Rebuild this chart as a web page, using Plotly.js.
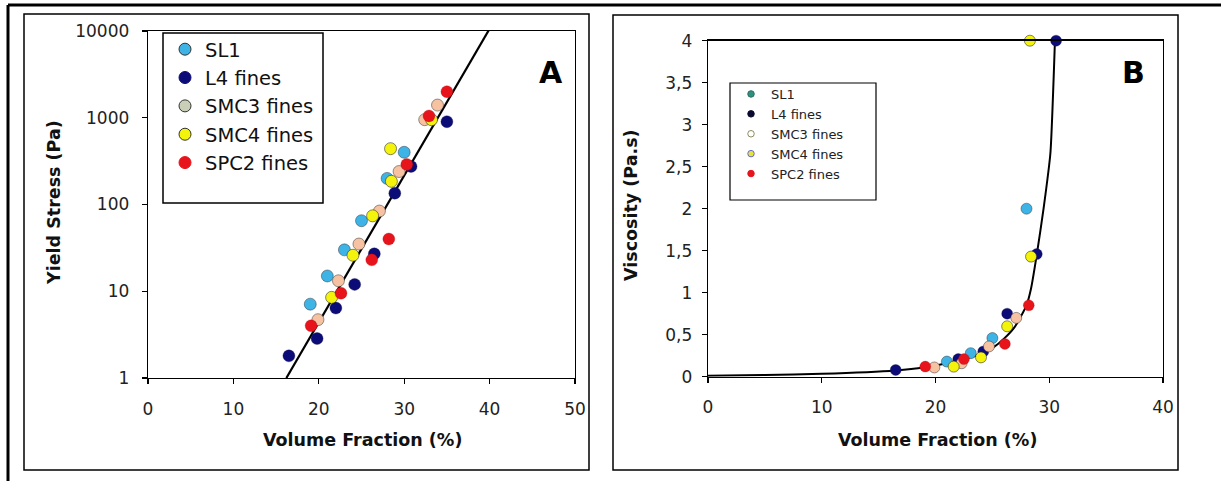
<!DOCTYPE html>
<html>
<head>
<meta charset="utf-8">
<script src="https://cdn.plot.ly/plotly-3.0.1.min.js"></script>
<style>html,body{margin:0;padding:0;background:#fff;}#chart{width:1221px;height:481px;}</style>
</head>
<body>
<div id="chart"></div>
<script>
// ---------- Data: Panel A (Yield stress, log scale) ----------
const seriesNames = ['SL1', 'L4 fines', 'SMC3 fines', 'SMC4 fines', 'SPC2 fines'];

const aSL1_x  = [19.0, 21.0, 23.0, 25.0, 28.0, 30.0];
const aSL1_y  = [7.1, 15, 30, 65, 200, 400];
const aL4_x   = [16.5, 19.8, 22.0, 24.2, 26.5, 28.9, 30.8, 35.0];
const aL4_y   = [1.8, 2.85, 6.4, 12, 27, 135, 275, 900];
const aSMC3_x = [19.9, 22.3, 24.7, 27.1, 29.4, 32.4, 33.9];
const aSMC3_y = [4.7, 13.2, 35, 84, 240, 950, 1400];
const aSMC4_x = [21.5, 24.0, 26.3, 28.5, 28.4, 33.2];
const aSMC4_y = [8.5, 26, 74, 185, 440, 950];
const aSPC2_x = [19.1, 22.6, 26.2, 28.2, 30.3, 32.9, 35.0];
const aSPC2_y = [4.0, 9.5, 23, 40, 290, 1050, 2000];
const aFit_x  = [16.2, 40.0];
const aFit_y  = [1, 10600];

// ---------- Data: Panel B (Viscosity) ----------
const bSL1_x  = [21.0, 23.1, 25.0, 28.0];
const bSL1_y  = [0.18, 0.28, 0.46, 2.0];
const bL4_x   = [16.5, 22.0, 24.2, 26.3, 28.9, 30.6];
const bL4_y   = [0.08, 0.21, 0.30, 0.75, 1.46, 4.0];
const bSMC3_x = [19.9, 22.3, 24.7, 27.1];
const bSMC3_y = [0.11, 0.16, 0.36, 0.70];
const bSMC4_x = [21.6, 24.0, 26.3, 28.4, 28.3];
const bSMC4_y = [0.12, 0.23, 0.60, 1.43, 4.0];
const bSPC2_x = [19.1, 22.5, 26.1, 28.2];
const bSPC2_y = [0.12, 0.21, 0.39, 0.85];
const bFit_x  = [0, 5, 10, 16.5, 19, 21, 22.5, 24, 25, 26, 27, 28, 28.4, 28.9, 29.5, 30.1, 30.5];
const bFit_y  = [0.01, 0.02, 0.035, 0.075, 0.11, 0.16, 0.21, 0.27, 0.34, 0.45, 0.6, 0.85, 1.05, 1.45, 2.0, 2.66, 4.0];

// ---------- Tick labels ----------
const aXTicks = [0, 10, 20, 30, 40, 50];
const aYTickVals = [1, 10, 100, 1000, 10000];
const aYTickText = ['1', '10', '100', '1000', '10000'];
const bXTicks = [0, 10, 20, 30, 40];
const bYTickVals = [0, 0.5, 1, 1.5, 2, 2.5, 3, 3.5, 4];
const bYTickText = ['0', '0,5', '1', '1,5', '2', '2,5', '3', '3,5', '4'];

// ---------- Styling ----------
const W = 1221, H = 481;
const px = v => v / W;
const py = v => 1 - v / H;
const FONT = 'DejaVu Sans, Arial, sans-serif';

const dataColors = ['#3db3e6', '#0c0c78', '#f6c2a2', '#f4f30c', '#e8141c'];
const dataLines  = ['rgba(40,40,40,0.55)', 'rgba(20,20,60,0.4)', 'rgba(40,40,40,0.6)', 'rgba(40,40,40,0.7)', 'rgba(150,0,0,0.3)'];
const legAColors = ['#3db3e6', '#0c0c78', '#c9cfb6', '#f4f30c', '#e8141c'];
const legALines  = ['#333', '#0c0c78', '#333', '#333', '#e8141c'];
const legBColors = ['#2f8f80', '#0a0a30', '#ffffff', '#e4e43a', '#e8141c'];
const legBLines  = ['#2f6f60', '#0a0a30', '#8c8c60', '#6a6ad0', '#e8141c'];

const aX = [aSL1_x, aL4_x, aSMC3_x, aSMC4_x, aSPC2_x];
const aY = [aSL1_y, aL4_y, aSMC3_y, aSMC4_y, aSPC2_y];
const bX = [bSL1_x, bL4_x, bSMC3_x, bSMC4_x, bSPC2_x];
const bY = [bSL1_y, bL4_y, bSMC3_y, bSMC4_y, bSPC2_y];

const traces = [];
// fit lines
traces.push({x: aFit_x, y: aFit_y, xaxis: 'x', yaxis: 'y', mode: 'lines', line: {color: '#000', width: 2.2}, showlegend: false, hoverinfo: 'skip'});
traces.push({x: bFit_x, y: bFit_y, xaxis: 'x2', yaxis: 'y2', mode: 'lines', line: {color: '#000', width: 2, shape: 'spline', smoothing: 0.5}, showlegend: false, hoverinfo: 'skip'});

for (let i = 0; i < 5; i++) {
  traces.push({x: aX[i], y: aY[i], xaxis: 'x', yaxis: 'y', mode: 'markers', name: seriesNames[i], showlegend: false, cliponaxis: false,
    marker: {size: 12, color: dataColors[i], line: {color: dataLines[i], width: 0.8}}});
}
for (let i = 0; i < 5; i++) {
  traces.push({x: bX[i], y: bY[i], xaxis: 'x2', yaxis: 'y2', mode: 'markers', name: seriesNames[i], showlegend: false, cliponaxis: false,
    marker: {size: 11, color: dataColors[i], line: {color: dataLines[i], width: 0.8}}});
}
// legend-only entries
for (let i = 0; i < 5; i++) {
  traces.push({x: [null], y: [null], xaxis: 'x', yaxis: 'y', mode: 'markers', name: seriesNames[i], legend: 'legend',
    marker: {size: 12, color: legAColors[i], line: {color: legALines[i], width: 1}}});
}
for (let i = 0; i < 5; i++) {
  traces.push({x: [null], y: [null], xaxis: 'x2', yaxis: 'y2', mode: 'markers', name: seriesNames[i], legend: 'legend2',
    marker: {size: 6.5, color: legBColors[i], line: {color: legBLines[i], width: 1}}});
}

const axisCommon = {
  showline: true, mirror: true, linecolor: '#000', linewidth: 1.3,
  ticks: 'outside', ticklen: 5, tickcolor: '#000', tickwidth: 1.2,
  showgrid: false, zeroline: false, fixedrange: true,
  tickfont: {family: FONT, size: 17, color: '#222'}
};

const rect = (x0, y0, x1, y1, w) => ({type: 'rect', xref: 'paper', yref: 'paper',
  x0: px(x0), x1: px(x1), y0: py(y1), y1: py(y0), line: {color: '#000', width: w}, fillcolor: 'rgba(0,0,0,0)', layer: 'above'});
const hline = (x0, x1, y, w) => ({type: 'line', xref: 'paper', yref: 'paper', x0: px(x0), x1: px(x1), y0: py(y), y1: py(y), line: {color: '#000', width: w}});
const vline = (x, y0, y1, w) => ({type: 'line', xref: 'paper', yref: 'paper', x0: px(x), x1: px(x), y0: py(y0), y1: py(y1), line: {color: '#000', width: w}});

const layout = {
  width: W, height: H,
  margin: {l: 0, r: 0, t: 0, b: 0},
  paper_bgcolor: '#fff', plot_bgcolor: 'rgba(0,0,0,0)',
  showlegend: true,
  xaxis: Object.assign({}, axisCommon, {domain: [px(148), px(575)], range: [0, 50], tickvals: aXTicks, anchor: 'y', ticklabelstandoff: 10}),
  yaxis: Object.assign({}, axisCommon, {domain: [py(378), py(31)], type: 'log', range: [0, 4], tickvals: aYTickVals, ticktext: aYTickText, anchor: 'x', ticklabelstandoff: 9}),
  xaxis2: Object.assign({}, axisCommon, {domain: [px(708), px(1163)], range: [0, 40], tickvals: bXTicks, anchor: 'y2', ticklabelstandoff: 10}),
  yaxis2: Object.assign({}, axisCommon, {domain: [py(376.7), py(40.7)], range: [0, 4], tickvals: bYTickVals, ticktext: bYTickText, anchor: 'x2', ticklabelstandoff: 6}),
  legend: {x: px(165), y: py(30), xanchor: 'left', yanchor: 'top', bgcolor: 'rgba(0,0,0,0)', borderwidth: 0,
    font: {family: FONT, size: 19.5, color: '#111'}, itemclick: false, itemdoubleclick: false},
  legend2: {x: px(731), y: py(79), xanchor: 'left', yanchor: 'top', bgcolor: 'rgba(0,0,0,0)', borderwidth: 0,
    font: {family: FONT, size: 13, color: '#222'}, itemclick: false, itemdoubleclick: false},
  shapes: [
    hline(8, 1221, 5, 3),
    vline(8, 5, 481, 3),
    rect(24, 14, 589, 470, 1.5),
    rect(613, 15, 1178, 470, 1.5),
    rect(163, 33, 323, 203, 1.5),
    rect(730, 83, 876, 200, 1.2)
  ],
  annotations: [
    {text: 'A', xref: 'paper', yref: 'paper', x: px(551), y: py(72), xanchor: 'center', yanchor: 'middle', showarrow: false, font: {family: FONT, size: 30, color: '#000', weight: 'bold'}},
    {text: 'B', xref: 'paper', yref: 'paper', x: px(1133), y: py(72), xanchor: 'center', yanchor: 'middle', showarrow: false, font: {family: FONT, size: 30, color: '#000', weight: 'bold'}},
    {text: 'Yield Stress (Pa)', xref: 'paper', yref: 'paper', x: px(54), y: py(203), textangle: -90, xanchor: 'center', yanchor: 'middle', showarrow: false, font: {family: FONT, size: 17.5, color: '#111', weight: 'bold'}},
    {text: 'Volume Fraction (%)', xref: 'paper', yref: 'paper', x: px(362), y: py(440), xanchor: 'center', yanchor: 'middle', showarrow: false, font: {family: FONT, size: 17.5, color: '#111', weight: 'bold'}},
    {text: 'Viscosity (Pa.s)', xref: 'paper', yref: 'paper', x: px(631), y: py(205), textangle: -90, xanchor: 'center', yanchor: 'middle', showarrow: false, font: {family: FONT, size: 17.5, color: '#111', weight: 'bold'}},
    {text: 'Volume Fraction (%)', xref: 'paper', yref: 'paper', x: px(937), y: py(440), xanchor: 'center', yanchor: 'middle', showarrow: false, font: {family: FONT, size: 17.5, color: '#111', weight: 'bold'}}
  ]
};

Plotly.newPlot('chart', traces, layout, {displayModeBar: false, staticPlot: true});
</script>
</body>
</html>
